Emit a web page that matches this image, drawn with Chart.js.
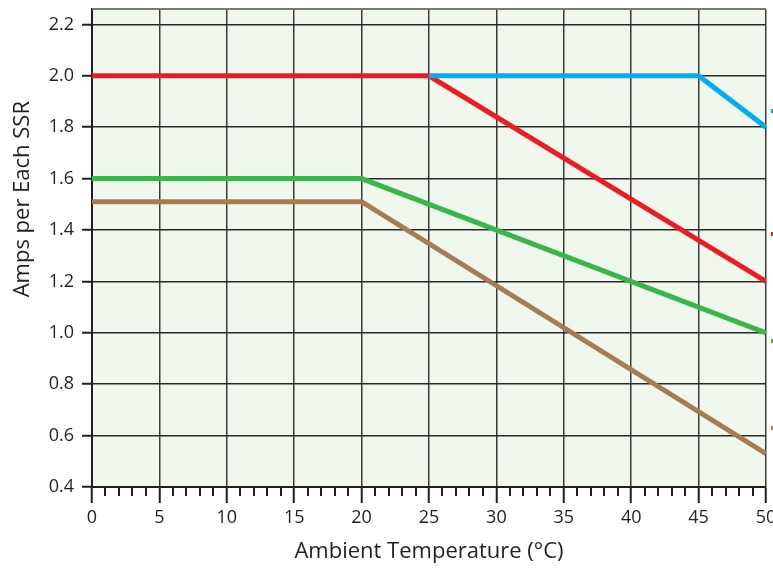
<!DOCTYPE html>
<html>
<head>
<meta charset="utf-8">
<script src="https://cdn.jsdelivr.net/npm/chart.js@4.4.1/dist/chart.umd.min.js"></script>
<style>
    html, body { margin: 0; padding: 0; background: #fff; overflow: hidden; }
    #wrap { position: relative; width: 773px; height: 574px; overflow: hidden; }
    #derate { position: absolute; left: 0; top: -26px; }
</style>
</head>
<body>
<div id="wrap"><canvas id="derate" width="860" height="600"></canvas></div>
<script>
// values
const seriesNames  = ['1 SSR On', '2 SSRs On', '3 SSRs On', '4 SSRs On'];
const seriesColors = ['#00aeef', '#ed1c24', '#39b54a', '#a67c52'];

const tempBlue  = [25, 45, 50];
const ampsBlue  = [2.0, 2.0, 1.8];
const tempRed   = [0, 25, 50];
const ampsRed   = [2.0, 2.0, 1.2];
const tempGreen = [0, 20, 50];
const ampsGreen = [1.6, 1.6, 1.0];
const tempBrown = [0, 20, 50];
const ampsBrown = [1.51, 1.51, 0.53];

const temps = [tempBlue, tempRed, tempGreen, tempBrown];
const amps  = [ampsBlue, ampsRed, ampsGreen, ampsBrown];

const INK = '#231f20';
const FONT = "'Open Sans', 'DejaVu Sans', sans-serif";
const Y_TITLE = 'Amps per Each SSR';

// legend swatches sit just past the right edge and are cut off by the crop
const swatchAt = [1.865, 1.384, 0.969, 0.629];

const plotDecor = {
    id: 'plotDecor',
    beforeDraw(chart) {
        const { ctx, chartArea: a } = chart;
        ctx.save();
        ctx.fillStyle = '#f0f7ec';
        ctx.fillRect(a.left, a.top, a.right - a.left, a.bottom - a.top);
        ctx.restore();
    },
    afterDraw(chart) {
        const { ctx, chartArea: a, scales: { x, y } } = chart;
        ctx.save();
        ctx.strokeStyle = '#777';
        ctx.lineWidth = 2;
        ctx.beginPath(); ctx.moveTo(a.left, a.top); ctx.lineTo(a.right, a.top); ctx.stroke();

        // minor ticks every degree under the axis
        ctx.strokeStyle = INK;
        ctx.lineWidth = 2;
        for (let t = x.min; t <= x.max; t++) {
            if (t % 5 === 0) continue;
            const px = Math.round(x.getPixelForValue(t));
            ctx.beginPath(); ctx.moveTo(px, a.bottom); ctx.lineTo(px, a.bottom + 9); ctx.stroke();
        }

        chart.data.datasets.forEach((ds, i) => {
            ctx.fillStyle = ds.borderColor;
            ctx.fillRect(a.right + 5, Math.round(y.getPixelForValue(swatchAt[i])) - 2, 14, 4);
        });

        // y title sits above the middle of the axis in the original
        ctx.translate(23, y.getPixelForValue(1.52));
        ctx.rotate(-Math.PI / 2);
        ctx.font = `22px ${FONT}`;
        ctx.fillStyle = INK;
        ctx.textAlign = 'center';
        ctx.textBaseline = 'middle';
        ctx.fillText(Y_TITLE, 0, 0);
        ctx.restore();
    }
};

new Chart(document.getElementById('derate'), {
    type: 'line',
    data: {
        datasets: seriesNames.map((name, i) => ({
            label: name,
            data: temps[i].map((t, k) => ({ x: t, y: amps[i][k] })),
            borderColor: seriesColors[i],
            backgroundColor: seriesColors[i],
            borderWidth: 5,
            pointRadius: 0,
            tension: 0,
            fill: false
        }))
    },
    options: {
        responsive: false,
        animation: false,
        devicePixelRatio: 1,
        layout: { padding: { left: 0, right: 94, top: 0, bottom: 0 } },
        plugins: {
            legend: { display: false },
            tooltip: { enabled: false },
            title: {
                display: true,
                text: 'Derating Curve (All SSRs Energized, per Relay)',
                color: INK,
                font: { family: FONT, size: 18, weight: 'normal' },
                padding: { top: 2, bottom: 11.4 }
            }
        },
        scales: {
            x: {
                type: 'linear',
                min: 0,
                max: 50,
                afterFit: s => { s.height = 87; },
                ticks: { stepSize: 5, color: INK, padding: 4, font: { family: FONT, size: 18 } },
                grid: { color: '#3a3a3a', lineWidth: 1.5, tickLength: 16, tickColor: INK, tickWidth: 2 },
                border: { color: INK, width: 2 },
                title: {
                    display: true,
                    text: 'Ambient Temperature (°C)',
                    color: INK,
                    font: { family: FONT, size: 22 },
                    padding: { top: 0, bottom: 9 }
                }
            },
            y: {
                type: 'linear',
                min: 0.4,
                max: 2.26,
                afterFit: s => { s.width = 92; },
                ticks: {
                    stepSize: 0.2,
                    includeBounds: false,
                    color: INK,
                    padding: 8,
                    font: { family: FONT, size: 18 },
                    callback: v => v.toFixed(1)
                },
                grid: { color: '#2a2a2a', lineWidth: 1.5, tickLength: 10, tickColor: INK, tickWidth: 2 },
                border: { color: INK, width: 2 }
            }
        }
    },
    plugins: [plotDecor]
});
</script>
</body>
</html>
